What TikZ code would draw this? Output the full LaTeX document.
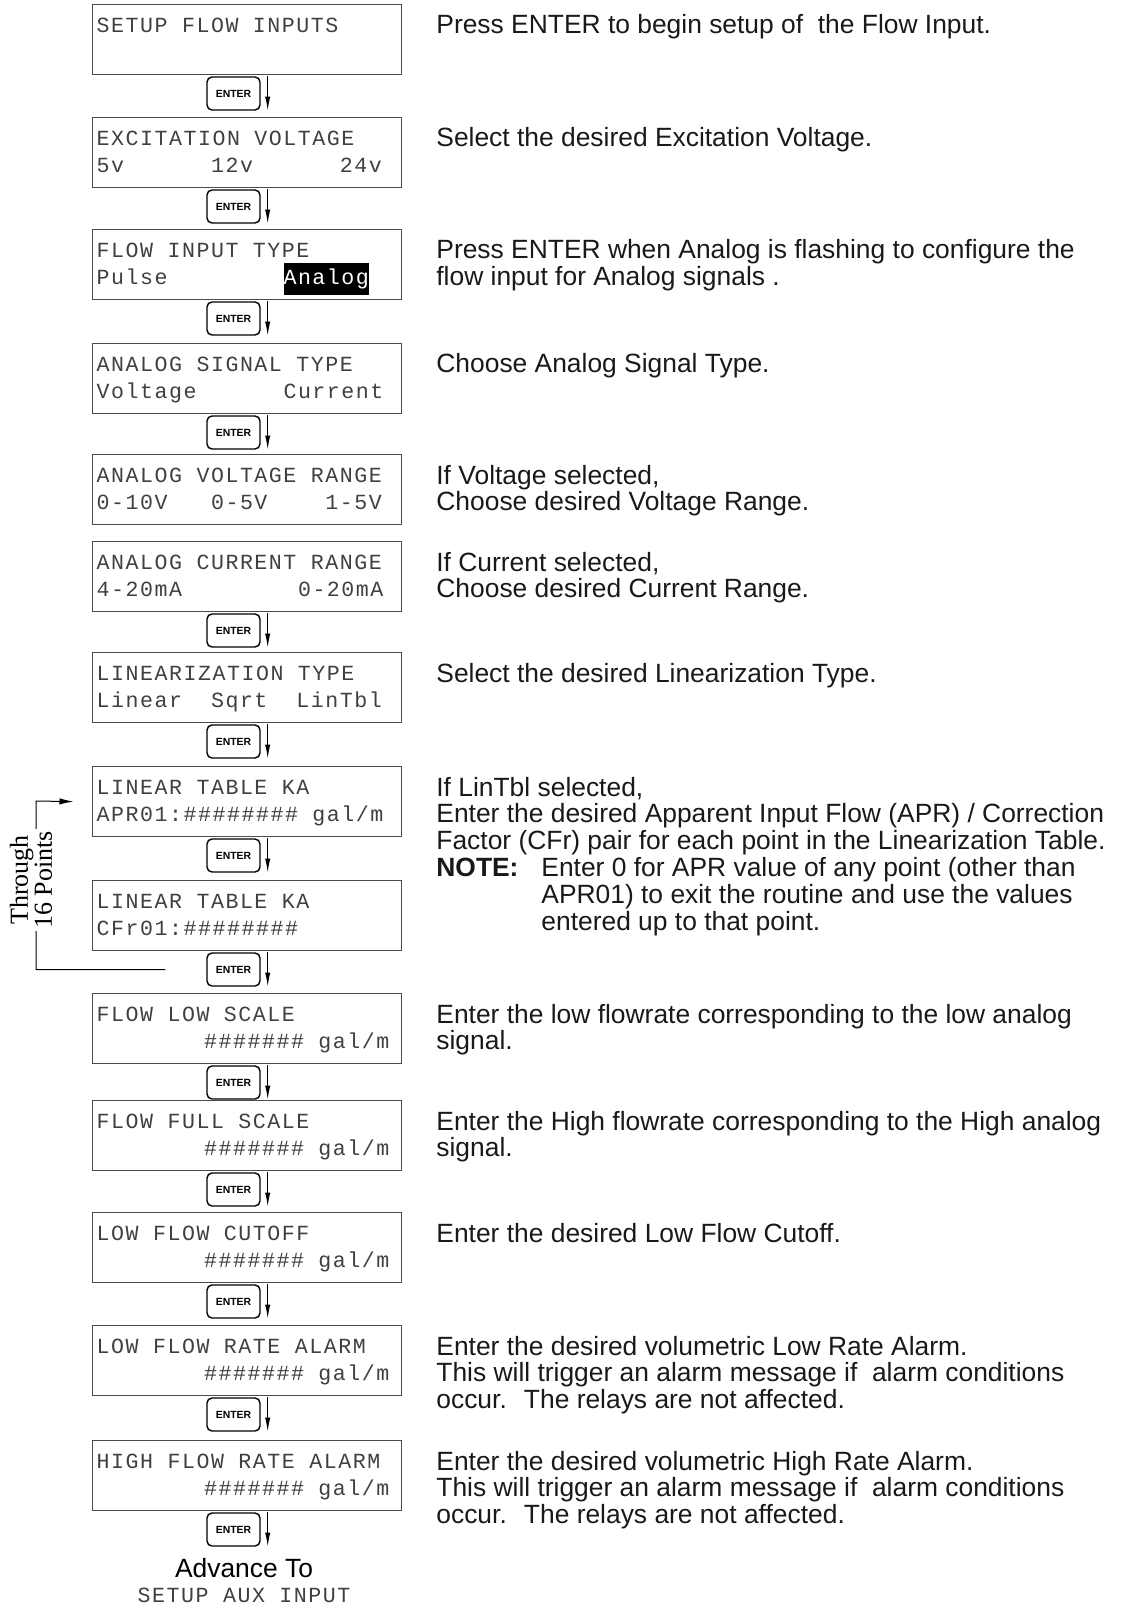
\documentclass[tikz,border=0pt]{standalone}
\usepackage{fontspec}
\setmainfont{Liberation Sans}
\newfontfamily\lcdfont[LetterSpace=7.1]{Liberation Mono}
\newfontfamily\timesfont{Liberation Serif}
\usetikzlibrary{arrows.meta}

\newcommand{\lcdtext}[2]{\parbox[c][35pt][t]{150pt}{\lcdfont\fontsize{10.8}{13.5}\selectfont\lineskiplimit=-100pt\raggedright\rule{0pt}{14pt}#1\par #2}}
\newcommand{\lcdhl}[1]{{\setlength{\fboxsep}{0pt}\colorbox{black}{\textcolor{white}{\rule[-5pt]{0pt}{16pt}#1}}}}
\newcommand{\desc}[1]{\parbox[t]{360pt}{\fontsize{13.2}{13.4}\selectfont\raggedright #1}}

\begin{document}
\begin{tikzpicture}[x=0.5pt,y=-0.5pt,
	lcd/.style={draw=black!70,line width=0.6pt,inner sep=0pt,minimum width=154.5pt,minimum height=35pt,anchor=north west,text=black!75},
	enter/.style={draw,line width=0.7pt,rounded corners=2.5pt,minimum width=26.5pt,minimum height=16.5pt,inner sep=0pt,font=\fontsize{5.2}{6}\selectfont\bfseries},
	press/.style={-{Latex[length=7pt,width=2.6pt]},line width=0.6pt},
	info/.style={anchor=base west,inner sep=0pt,text=black!90}]
	\useasboundingbox (0,0) rectangle (1130,1604);

	% Display
	\node[lcd] (b1) at (91.5,4) {\lcdtext{SETUP FLOW INPUTS}{}};
	\node[lcd] (b2) at (91.5,117) {\lcdtext{EXCITATION VOLTAGE}{5v~~~~~~12v~~~~~~24v}};
	\node[lcd] (b3) at (91.5,229) {\lcdtext{FLOW INPUT TYPE}{Pulse~~~~~~~~\lcdhl{Analog}}};
	\node[lcd] (b4) at (91.5,343) {\lcdtext{ANALOG SIGNAL TYPE}{Voltage~~~~~~Current}};
	\node[lcd] (b5) at (91.5,454) {\lcdtext{ANALOG VOLTAGE RANGE}{0-10V~~~0-5V~~~~1-5V}};
	\node[lcd] (b6) at (91.5,541) {\lcdtext{ANALOG CURRENT RANGE}{4-20mA~~~~~~~~0-20mA}};
	\node[lcd] (b7) at (91.5,652) {\lcdtext{LINEARIZATION TYPE}{Linear~~Sqrt~~LinTbl}};
	\node[lcd] (b8) at (91.5,766) {\lcdtext{LINEAR TABLE KA}{APR01:\#\#\#\#\#\#\#\#~gal/m}};
	\node[lcd] (b9) at (91.5,880) {\lcdtext{LINEAR TABLE KA}{CFr01:\#\#\#\#\#\#\#\#}};
	\node[lcd] (b10) at (91.5,993) {\lcdtext{FLOW LOW SCALE}{~~~~~~~\kern3pt\#\#\#\#\#\#\#~gal/m}};
	\node[lcd] (b11) at (91.5,1100) {\lcdtext{FLOW FULL SCALE}{~~~~~~~\kern3pt\#\#\#\#\#\#\#~gal/m}};
	\node[lcd] (b12) at (91.5,1212) {\lcdtext{LOW FLOW CUTOFF}{~~~~~~~\kern3pt\#\#\#\#\#\#\#~gal/m}};
	\node[lcd] (b13) at (91.5,1325) {\lcdtext{LOW FLOW RATE ALARM}{~~~~~~~\kern3pt\#\#\#\#\#\#\#~gal/m}};
	\node[lcd] (b14) at (91.5,1440) {\lcdtext{HIGH FLOW RATE ALARM}{~~~~~~~\kern3pt\#\#\#\#\#\#\#~gal/m}};

	%Button
	\node[enter] (e1) at (233.5,93.5) {ENTER};
	\node[enter] (e2) at (233.5,206.5) {ENTER};
	\node[enter] (e3) at (233.5,318.5) {ENTER};
	\node[enter] (e4) at (233.5,432.5) {ENTER};
	\node[enter] (e6) at (233.5,630.5) {ENTER};
	\node[enter] (e7) at (233.5,741.5) {ENTER};
	\node[enter] (e8) at (233.5,855.5) {ENTER};
	\node[enter] (e9) at (233.5,969.5) {ENTER};
	\node[enter] (e10) at (233.5,1082.5) {ENTER};
	\node[enter] (e11) at (233.5,1189.5) {ENTER};
	\node[enter] (e12) at (233.5,1301.5) {ENTER};
	\node[enter] (e13) at (233.5,1414.5) {ENTER};
	\node[enter] (e14) at (233.5,1529.5) {ENTER};

	%link
	\draw[press] ([xshift=3.5pt]e1.north east) -- ([xshift=3.5pt]e1.south east);
	\draw[press] ([xshift=3.5pt]e2.north east) -- ([xshift=3.5pt]e2.south east);
	\draw[press] ([xshift=3.5pt]e3.north east) -- ([xshift=3.5pt]e3.south east);
	\draw[press] ([xshift=3.5pt]e4.north east) -- ([xshift=3.5pt]e4.south east);
	\draw[press] ([xshift=3.5pt]e6.north east) -- ([xshift=3.5pt]e6.south east);
	\draw[press] ([xshift=3.5pt]e7.north east) -- ([xshift=3.5pt]e7.south east);
	\draw[press] ([xshift=3.5pt]e8.north east) -- ([xshift=3.5pt]e8.south east);
	\draw[press] ([xshift=3.5pt]e9.north east) -- ([xshift=3.5pt]e9.south east);
	\draw[press] ([xshift=3.5pt]e10.north east) -- ([xshift=3.5pt]e10.south east);
	\draw[press] ([xshift=3.5pt]e11.north east) -- ([xshift=3.5pt]e11.south east);
	\draw[press] ([xshift=3.5pt]e12.north east) -- ([xshift=3.5pt]e12.south east);
	\draw[press] ([xshift=3.5pt]e13.north east) -- ([xshift=3.5pt]e13.south east);
	\draw[press] ([xshift=3.5pt]e14.north east) -- ([xshift=3.5pt]e14.south east);

	% Loop back
	\draw[line width=0.5pt,-{Latex[length=7pt,width=3.2pt]}] ([xshift=-20.5pt]e9.west) -| (36,801) -- ([xshift=-9pt]b8.west);
	\node[fill=white,inner sep=1pt,rotate=90,align=center,font=\timesfont\fontsize{13}{12}\selectfont] (pts) at (31,880) {Through\\16 Points};

	%Label
	\node[info] (d1) at (436,34) {\desc{Press ENTER to begin setup of~ the Flow Input.}};
	\node[info] (d2) at (436,147) {\desc{Select the desired Excitation Voltage.}};
	\node[info] (d3) at (436,259) {\desc{Press ENTER when Analog is flashing to configure the\\flow input for Analog signals .}};
	\node[info] (d4) at (436,373) {\desc{Choose Analog Signal Type.}};
	\node[info] (d5) at (436,484) {\desc{If Voltage selected,\\Choose desired Voltage Range.}};
	\node[info] (d6) at (436,571) {\desc{If Current selected,\\Choose desired Current Range.}};
	\node[info] (d7) at (436,682) {\desc{Select the desired Linearization Type.}};
	\node[info] (d8) at (436,796) {\desc{If LinTbl selected,\\Enter the desired Apparent Input Flow (APR) / Correction\\Factor (CFr) pair for each point in the Linearization Table.\\\makebox[52.5pt][l]{\textbf{NOTE:}}Enter 0 for APR value of any point (other than\\\hspace*{52.5pt}APR01) to exit the routine and use the values\\\hspace*{52.5pt}entered up to that point.}};
	\node[info] (d10) at (436,1023) {\desc{Enter the low flowrate corresponding to the low analog\\signal.}};
	\node[info] (d11) at (436,1130) {\desc{Enter the High flowrate corresponding to the High analog\\signal.}};
	\node[info] (d12) at (436,1242) {\desc{Enter the desired Low Flow Cutoff.}};
	\node[info] (d13) at (436,1355) {\desc{Enter the desired volumetric Low Rate Alarm.\\This will trigger an alarm message if~ alarm conditions\\occur.~ The relays are not affected.}};
	\node[info] (d14) at (436,1470) {\desc{Enter the desired volumetric High Rate Alarm.\\This will trigger an alarm message if~ alarm conditions\\occur.~ The relays are not affected.}};

	\node[anchor=base,inner sep=0pt,font=\fontsize{13.2}{14}\selectfont] (adv) at (244,1577) {Advance To};
	\node[anchor=base,inner sep=0pt,font=\lcdfont\fontsize{10.8}{13}\selectfont,text=black!75] (aux) at (244,1602) {SETUP AUX INPUT};

\end{tikzpicture}
\end{document}
